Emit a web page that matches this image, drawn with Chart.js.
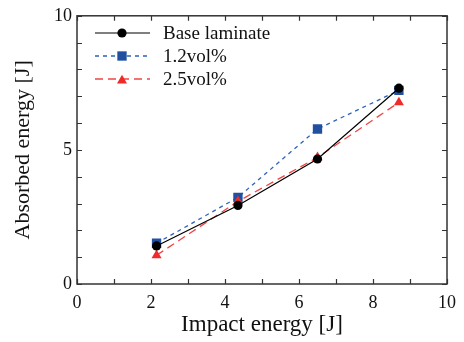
<!DOCTYPE html>
<html>
<head>
<meta charset="utf-8">
<script src="https://cdn.jsdelivr.net/npm/chart.js@4.4.1/dist/chart.umd.min.js"></script>
<style>
  html, body { margin: 0; padding: 0; background: #fff; }
  #wrap { width: 464px; height: 342px; }
</style>
</head>
<body>
<div id="wrap"><canvas id="chart"></canvas></div>
<script>
// data
const impactEnergy = [2.15, 4.35, 6.5, 8.7]
const baseLaminate = [1.42, 2.93, 4.66, 7.3]
const vol12 = [1.52, 3.23, 5.78, 7.22]
const vol25 = [1.07, 3.08, 4.72, 6.77]
const seriesNames = ['Base laminate', '1.2vol%', '2.5vol%']
const xTickLabels = [0, 2, 4, 6, 8, 10]
const yTickLabels = [0, 5, 10]

const serif = "'Liberation Serif', 'Times New Roman', serif"
const frameColor = '#333'

const toPoints = ys => ys.map((y, i) => ({ x: impactEnergy[i], y }))

// frame with inward ticks on all four sides
const framePlugin = {
    id: 'frame',
    afterDraw(chart) {
        const { ctx, chartArea: a, scales } = chart
        ctx.save()
        ctx.strokeStyle = frameColor
        ctx.lineWidth = 1.5
        ctx.strokeRect(a.left, a.top, a.right - a.left, a.bottom - a.top)
        ctx.lineWidth = 1.2
        const tl = 5
        scales.x.ticks.forEach(t => {
            const px = Math.round(scales.x.getPixelForValue(t.value)) + 0.5
            ctx.beginPath()
            ctx.moveTo(px, a.bottom); ctx.lineTo(px, a.bottom - tl)
            ctx.moveTo(px, a.top); ctx.lineTo(px, a.top + tl)
            ctx.stroke()
        })
        scales.y.ticks.forEach(t => {
            const py = Math.round(scales.y.getPixelForValue(t.value)) + 0.5
            ctx.beginPath()
            ctx.moveTo(a.left, py); ctx.lineTo(a.left + tl, py)
            ctx.moveTo(a.right, py); ctx.lineTo(a.right - tl, py)
            ctx.stroke()
        })
        ctx.restore()
    }
}

// legend inside the plot, top left
const innerLegend = {
    id: 'innerLegend',
    afterDraw(chart) {
        const { ctx } = chart
        const x0 = 95, x1 = 150, xm = 122, xt = 163
        const rows = [33, 56, 79]
        ctx.save()
        chart.data.datasets.forEach((ds, i) => {
            const y = rows[i]
            ctx.strokeStyle = ds.borderColor
            ctx.lineWidth = ds.borderWidth
            ctx.setLineDash(ds.borderDash || [])
            ctx.beginPath()
            ctx.moveTo(x0, y); ctx.lineTo(x1, y)
            ctx.stroke()
            ctx.setLineDash([])
            ctx.fillStyle = ds.pointBackgroundColor
            ctx.strokeStyle = ds.pointBackgroundColor
            Chart.helpers.drawPoint(ctx, {
                pointStyle: ds.pointStyle,
                radius: ds.pointRadius,
                borderWidth: 0,
                rotation: 0
            }, xm, ds.pointStyle === 'triangle' ? y + 1.5 : y)
            ctx.fillStyle = '#111'
            ctx.font = `19px ${serif}`
            ctx.textBaseline = 'middle'
            ctx.fillText(seriesNames[i], xt, y + 1)
        })
        ctx.restore()
    }
}

new Chart(document.getElementById('chart'), {
    type: 'line',
    data: {
        datasets: [{
            label: seriesNames[0],
            data: toPoints(baseLaminate),
            borderColor: '#000',
            borderWidth: 1.2,
            pointStyle: 'circle',
            pointRadius: 4.6,
            pointBackgroundColor: '#000',
            pointBorderWidth: 0,
            order: 0
        }, {
            label: seriesNames[1],
            data: toPoints(vol12),
            borderColor: '#2f62b8',
            borderWidth: 1.3,
            borderDash: [4, 4],
            pointStyle: 'rect',
            pointRadius: 6.6,
            pointBackgroundColor: '#2150a0',
            pointBorderWidth: 0,
            order: 2
        }, {
            label: seriesNames[2],
            data: toPoints(vol25),
            borderColor: '#f04545',
            borderWidth: 1.3,
            borderDash: [8, 5],
            pointStyle: 'triangle',
            pointRadius: 5.8,
            pointBackgroundColor: '#f02a2a',
            pointBorderWidth: 0,
            order: 1
        }]
    },
    options: {
        responsive: true,
        maintainAspectRatio: false,
        animation: false,
        layout: { padding: { top: 14, right: 9, left: 0, bottom: 0 } },
        scales: {
            x: {
                type: 'linear',
                min: 0, max: 10,
                afterFit: s => { s.height = 58 },
                afterBuildTicks: s => { s.ticks = Array.from({ length: 11 }, (_, i) => ({ value: i })) },
                grid: { display: false, drawTicks: false },
                border: { display: false },
                ticks: {
                    padding: 8,
                    color: '#111',
                    font: { family: serif, size: 18 },
                    maxRotation: 0,
                    autoSkip: false,
                    callback: v => xTickLabels.includes(v) ? String(v) : ''
                },
                title: {
                    display: true,
                    text: 'Impact energy [J]',
                    color: '#111',
                    font: { family: serif, size: 23 },
                    padding: { top: 0, bottom: 3 }
                }
            },
            y: {
                type: 'linear',
                min: 0, max: 10,
                afterFit: s => { s.width = 77 },
                afterBuildTicks: s => { s.ticks = Array.from({ length: 11 }, (_, i) => ({ value: i })) },
                grid: { display: false, drawTicks: false },
                border: { display: false },
                ticks: {
                    padding: 5,
                    color: '#111',
                    font: { family: serif, size: 18 },
                    autoSkip: false,
                    callback: v => yTickLabels.includes(v) ? String(v) : ''
                },
                title: {
                    display: true,
                    text: 'Absorbed energy [J]',
                    color: '#111',
                    font: { family: serif, size: 22 },
                    padding: { top: 10, bottom: 0 }
                }
            }
        },
        plugins: {
            legend: { display: false },
            tooltip: { enabled: false }
        }
    },
    plugins: [framePlugin, innerLegend]
})
</script>
</body>
</html>
